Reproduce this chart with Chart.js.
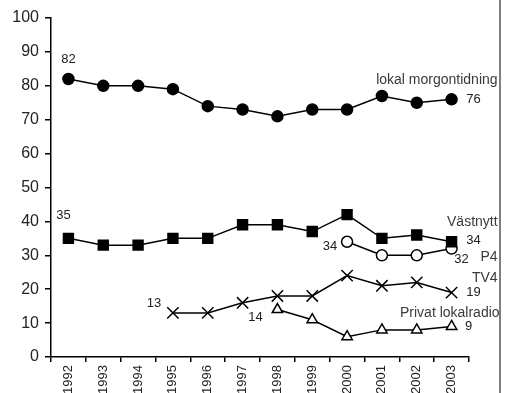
<!DOCTYPE html>
<html>
<head>
<meta charset="utf-8">
<script src="https://cdn.jsdelivr.net/npm/chart.js@4.4.0/dist/chart.umd.min.js"></script>
<style>
  html, body { margin: 0; padding: 0; background: #fff; overflow: hidden; }
  canvas { display: block; }
</style>
</head>
<body>
<canvas id="chart" width="509" height="400"></canvas>
<script>
const years = ['1992','1993','1994','1995','1996','1997','1998','1999','2000','2001','2002','2003'];
const morgontidning = [82, 80, 80, 79, 74, 73, 71, 73, 73, 77, 75, 76];
const vastnytt = [35, 33, 33, 35, 35, 39, 39, 37, 42, 35, 36, 34];
const p4 = [null, null, null, null, null, null, null, null, 34, 30, 30, 32];
const tv4 = [null, null, null, 13, 13, 16, 18, 18, 24, 21, 22, 19];
const privatRadio = [null, null, null, null, null, null, 14, 11, 6, 8, 8, 9];
const yTicks = [0, 10, 20, 30, 40, 50, 60, 70, 80, 90, 100];

// value labels beside points: dataset, index, text, offset in px
const pointLabels = [
  { ds: 0, i: 0, text: '82', dx: 0, dy: -20 },
  { ds: 0, i: 11, text: '76', dx: 22, dy: 0 },
  { ds: 1, i: 0, text: '35', dx: -5, dy: -23 },
  { ds: 1, i: 11, text: '34', dx: 22, dy: -1 },
  { ds: 2, i: 8, text: '34', dx: -17, dy: 5 },
  { ds: 2, i: 11, text: '32', dx: 10, dy: 11 },
  { ds: 3, i: 3, text: '13', dx: -19, dy: -10 },
  { ds: 3, i: 11, text: '19', dx: 22, dy: 0 },
  { ds: 4, i: 6, text: '14', dx: -22, dy: 8 },
  { ds: 4, i: 11, text: '9', dx: 17, dy: 0 }
];
// series names, right aligned, relative to last point
const seriesNames = [
  { ds: 0, text: 'lokal morgontidning', dx: 46, dy: -19 },
  { ds: 1, text: 'Västnytt', dx: 46, dy: -20 },
  { ds: 2, text: 'P4', dx: 46, dy: 9 },
  { ds: 3, text: 'TV4', dx: 46, dy: -14 },
  { ds: 4, text: 'Privat lokalradio', dx: 48, dy: -13 }
];

const labelPlugin = {
  id: 'labels',
  afterDatasetsDraw(chart) {
    const ctx = chart.ctx;
    ctx.save();
    ctx.textBaseline = 'middle';
    ctx.fillStyle = '#222';
    ctx.textAlign = 'center';
    ctx.font = '13px "Liberation Sans", Arial, sans-serif';
    pointLabels.forEach(l => {
      const pt = chart.getDatasetMeta(l.ds).data[l.i];
      ctx.fillText(l.text, pt.x + l.dx, pt.y + l.dy);
    });
    ctx.fillStyle = '#3a3a3a';
    ctx.textAlign = 'right';
    ctx.font = '14px "Liberation Sans", Arial, sans-serif';
    seriesNames.forEach(s => {
      const pt = chart.getDatasetMeta(s.ds).data[11];
      ctx.fillText(s.text, pt.x + s.dx, pt.y + s.dy);
    });
    // right frame line
    ctx.strokeStyle = '#555';
    ctx.lineWidth = 1.5;
    ctx.beginPath();
    ctx.moveTo(500, 0);
    ctx.lineTo(500, chart.height);
    ctx.stroke();
    ctx.restore();
  }
};

function series(data, style, radius, filled) {
  return {
    data: data,
    borderColor: '#000',
    borderWidth: 1.5,
    pointStyle: style,
    pointRadius: radius,
    pointHoverRadius: radius,
    pointBorderColor: '#000',
    pointBorderWidth: 1.5,
    pointBackgroundColor: filled ? '#000' : '#fff',
    spanGaps: false,
    tension: 0
  };
}

new Chart(document.getElementById('chart'), {
  type: 'line',
  data: {
    labels: years,
    datasets: [
      series(morgontidning, 'circle', 5.5, true),
      series(vastnytt, 'rect', 7, true),
      series(p4, 'circle', 5.5, false),
      series(tv4, 'crossRot', 8, false),
      series(privatRadio, 'triangle', 6, false)
    ]
  },
  options: {
    responsive: false,
    animation: false,
    events: [],
    layout: { padding: { top: 18, right: 40, left: 0, bottom: 0 } },
    plugins: { legend: { display: false }, tooltip: { enabled: false } },
    scales: {
      x: {
        offset: true,
        afterFit: s => { s.height = 43; },
        grid: { offset: true, drawOnChartArea: false, drawTicks: true, tickLength: 5, color: '#000', lineWidth: 1.5 },
        border: { color: '#000', width: 1.5 },
        ticks: {
          color: '#222', minRotation: 90, maxRotation: 90, padding: 3, autoSkip: false,
          font: { family: '"Liberation Sans", Arial, sans-serif', size: 13 }
        }
      },
      y: {
        min: 0,
        max: 100,
        afterFit: s => { s.width = 51; },
        afterBuildTicks: s => { s.ticks = yTicks.map(v => ({ value: v })); },
        grid: { drawOnChartArea: false, drawTicks: true, tickLength: 6, color: '#000', lineWidth: 1.5 },
        border: { color: '#000', width: 1.5 },
        ticks: {
          color: '#222', padding: 6,
          font: { family: '"Liberation Sans", Arial, sans-serif', size: 16 }
        }
      }
    }
  },
  plugins: [labelPlugin]
});
</script>
</body>
</html>
